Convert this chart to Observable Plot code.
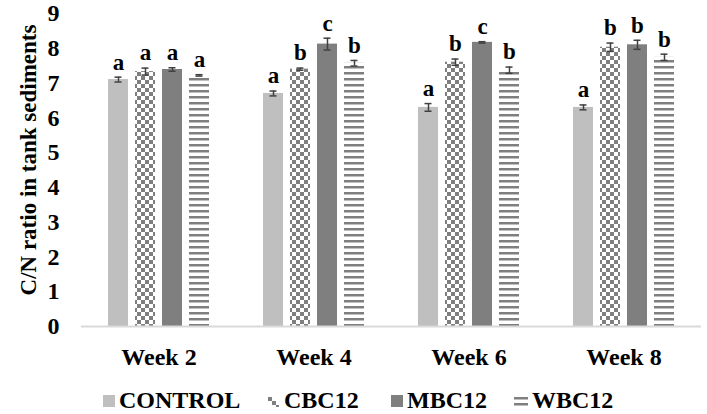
<!DOCTYPE html>
<html>
<head>
<meta charset="utf-8">
<script src="https://cdn.jsdelivr.net/npm/d3@7"></script>
<script src="https://cdn.jsdelivr.net/npm/@observablehq/plot@0.6"></script>
<style>
  body { margin: 0; background: #fff; }
  #chart { width: 707px; height: 414px; position: relative; font-family: "Liberation Serif", "Times New Roman", serif; }
  #legend { position: absolute; left: 0; top: 386px; height: 28px; width: 707px; font-weight: bold; font-size: 24px; }
  .item { position: absolute; top: 1px; display: flex; align-items: center; gap: 4px; }
  .item svg { display: block; }
</style>
</head>
<body>
<div id="chart"></div>
<script>
const weeks = ["Week 2", "Week 4", "Week 6", "Week 8"];
const treatments = ["CONTROL", "CBC12", "MBC12", "WBC12"];
const control = [7.10, 6.70, 6.30, 6.30];
const cbc12   = [7.33, 7.40, 7.60, 8.03];
const mbc12   = [7.39, 8.12, 8.17, 8.10];
const wbc12   = [7.22, 7.57, 7.37, 7.74];
const controlErr = [0.07, 0.07, 0.11, 0.07];
const cbc12Err   = [0.10, 0.03, 0.09, 0.12];
const mbc12Err   = [0.05, 0.17, 0.02, 0.13];
const wbc12Err   = [0.02, 0.08, 0.09, 0.09];
const controlLetters = ["a", "a", "a", "a"];
const cbc12Letters   = ["a", "b", "b", "b"];
const mbc12Letters   = ["a", "c", "c", "b"];
const wbc12Letters   = ["a", "b", "b", "b"];
const yTicks = [0, 1, 2, 3, 4, 5, 6, 7, 8, 9];

const series = [
  [control, controlErr, controlLetters],
  [cbc12, cbc12Err, cbc12Letters],
  [mbc12, mbc12Err, mbc12Letters],
  [wbc12, wbc12Err, wbc12Letters]
];
const data = [];
weeks.forEach((w, i) => {
  treatments.forEach((t, j) => {
    const [vals, errs, lets] = series[j];
    data.push({week: w, treatment: t, value: vals[i], err: errs[i], letter: lets[i]});
  });
});

const fills = ["#bfbfbf", "url(#checker)", "#7f7f7f", "url(#stripes)"];

const svg = Plot.plot({
  width: 707,
  height: 386,
  marginLeft: 80,
  marginRight: 5,
  marginTop: 13,
  marginBottom: 60,
  style: {fontFamily: "'Liberation Serif', 'Times New Roman', serif", fontWeight: "bold", fontSize: "24px", color: "#000", background: "#fff"},
  fx: {domain: weeks, padding: 0, label: null, axis: "bottom", tickSize: 0, tickPadding: 21},
  x: {domain: treatments, paddingInner: 0.25, paddingOuter: 0.9, axis: null},
  y: {domain: [0, 9], ticks: yTicks, tickSize: 0, tickPadding: 22, label: "C/N ratio in tank sediments", labelAnchor: "center", labelOffset: 62, labelArrow: "none", tickFormat: d3.format("d")},
  color: {domain: treatments, range: fills},
  marks: [
    Plot.barY(data, {fx: "week", x: "treatment", y: "value", fill: "treatment"}),
    Plot.ruleY([0], {stroke: "#d9d9d9", strokeWidth: 2}),
    Plot.ruleX(data, {fx: "week", x: "treatment", y1: d => d.value - d.err, y2: d => d.value + d.err, stroke: "#404040", strokeWidth: 1.5}),
    Plot.tickY(data, {fx: "week", x: "treatment", y: d => d.value + d.err, stroke: "#404040", strokeWidth: 1.5, insetLeft: 6.5, insetRight: 6.5}),
    Plot.tickY(data, {fx: "week", x: "treatment", y: d => d.value - d.err, stroke: "#404040", strokeWidth: 1.5, insetLeft: 6.5, insetRight: 6.5}),
    Plot.text(data, {fx: "week", x: "treatment", y: d => d.value + d.err, text: "letter", dy: -15, fill: "#000", fontSize: 23, fontWeight: "bold"})
  ]
});

const defs = d3.select(svg).insert("defs", ":first-child");
const chk = defs.append("pattern").attr("id", "checker").attr("patternUnits", "userSpaceOnUse").attr("width", 8).attr("height", 8);
chk.append("rect").attr("width", 8).attr("height", 8).attr("fill", "#fff");
chk.append("rect").attr("x", 0).attr("y", 0).attr("width", 4).attr("height", 4).attr("fill", "#7f7f7f");
chk.append("rect").attr("x", 4).attr("y", 4).attr("width", 4).attr("height", 4).attr("fill", "#7f7f7f");
const str = defs.append("pattern").attr("id", "stripes").attr("patternUnits", "userSpaceOnUse").attr("width", 6).attr("height", 6);
str.append("rect").attr("width", 6).attr("height", 6).attr("fill", "#fff");
str.append("rect").attr("x", 0).attr("y", 0).attr("width", 6).attr("height", 2.5).attr("fill", "#7f7f7f");

// nudge the y-axis title up a little (prepend to the existing transform)
d3.select(svg).selectAll('[aria-label="y-axis label"]').each(function() {
  const el = d3.select(this);
  const t = el.attr("transform") || "";
  el.attr("transform", "translate(0,-10) " + t).style("font-size", "23px");
});

const chart = document.getElementById("chart");
chart.appendChild(svg);

// Legend
const legend = document.createElement("div");
legend.id = "legend";
const legendX = [103, 268, 391, 514];
const swatches = [
  '<svg width="12" height="12"><rect width="12" height="12" fill="#bfbfbf"/></svg>',
  '<svg width="12" height="12"><rect x="0" y="2" width="4" height="4" fill="#7f7f7f"/><rect x="4" y="6" width="4" height="4" fill="#7f7f7f"/><rect x="8" y="10" width="3" height="2" fill="#7f7f7f"/></svg>',
  '<svg width="12" height="12"><rect width="12" height="12" fill="#7f7f7f"/></svg>',
  '<svg width="14" height="12"><rect x="0" y="2" width="14" height="2.5" fill="#7f7f7f"/><rect x="0" y="8" width="14" height="2.5" fill="#7f7f7f"/></svg>'
];
treatments.forEach((t, i) => {
  const it = document.createElement("div");
  it.className = "item";
  it.style.left = legendX[i] + "px";
  it.innerHTML = swatches[i] + "<span>" + t + "</span>";
  legend.appendChild(it);
});
chart.appendChild(legend);
</script>
</body>
</html>
